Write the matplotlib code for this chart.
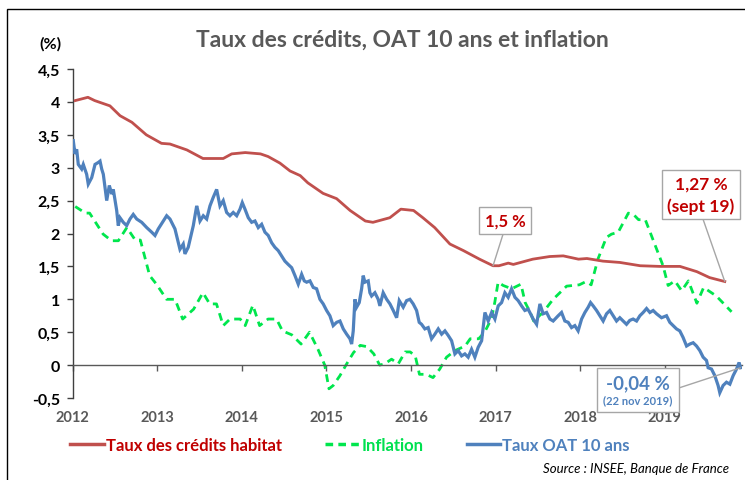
import matplotlib
matplotlib.use("Agg")
import matplotlib.pyplot as plt
from matplotlib.patches import Rectangle
from matplotlib.lines import Line2D
from matplotlib.offsetbox import TextArea, VPacker, AnnotationBbox
from matplotlib.ticker import FuncFormatter, MultipleLocator

# ---------------- data (fractional years, %) ----------------
red_t = [2012.03, 2012.18, 2012.26, 2012.44, 2012.56, 2012.70, 2012.87, 2013.05, 2013.15,
         2013.35, 2013.54, 2013.78, 2013.88, 2014.04, 2014.22, 2014.31, 2014.45, 2014.57,
         2014.69, 2014.78, 2014.96, 2015.12, 2015.28, 2015.46, 2015.55, 2015.75, 2015.88,
         2016.03, 2016.14, 2016.28, 2016.46, 2016.62, 2016.81, 2016.97, 2017.04, 2017.15,
         2017.21, 2017.44, 2017.64, 2017.80, 2017.98, 2018.08, 2018.27, 2018.47, 2018.71,
         2018.94, 2019.18, 2019.38, 2019.53, 2019.71]
red_v = [4.02, 4.07, 4.02, 3.94, 3.79, 3.69, 3.50, 3.37, 3.36,
         3.27, 3.14, 3.14, 3.21, 3.23, 3.21, 3.17, 3.07, 2.95,
         2.88, 2.77, 2.61, 2.53, 2.35, 2.19, 2.17, 2.24, 2.37,
         2.35, 2.24, 2.09, 1.84, 1.74, 1.61, 1.51, 1.51, 1.55,
         1.53, 1.61, 1.65, 1.66, 1.61, 1.62, 1.58, 1.56, 1.51,
         1.50, 1.50, 1.42, 1.33, 1.27]

infl_t = [2012.03, 2012.15, 2012.20, 2012.36, 2012.46, 2012.54, 2012.64, 2012.74, 2012.80,
          2012.91, 2012.99, 2013.11, 2013.21, 2013.30, 2013.43, 2013.54, 2013.62, 2013.70,
          2013.78, 2013.86, 2013.98, 2014.04, 2014.13, 2014.21, 2014.31, 2014.41, 2014.48,
          2014.59, 2014.70, 2014.80, 2014.90, 2014.98, 2015.03, 2015.08, 2015.16, 2015.24,
          2015.32, 2015.40, 2015.48, 2015.56, 2015.63, 2015.69, 2015.77, 2015.85, 2015.93,
          2015.99, 2016.05, 2016.10, 2016.18, 2016.26, 2016.34, 2016.42, 2016.52, 2016.64,
          2016.70, 2016.80, 2016.87, 2016.95, 2016.99, 2017.03, 2017.09, 2017.19, 2017.30,
          2017.35, 2017.41, 2017.45, 2017.56, 2017.68, 2017.84, 2017.99, 2018.07, 2018.13,
          2018.21, 2018.31, 2018.37, 2018.45, 2018.57, 2018.63, 2018.69, 2018.77, 2018.86,
          2018.98, 2019.04, 2019.12, 2019.20, 2019.28, 2019.38, 2019.46, 2019.61, 2019.79]
infl_v = [2.41, 2.31, 2.31, 1.99, 1.89, 1.89, 2.09, 1.90, 1.90,
          1.36, 1.23, 1.00, 1.00, 0.70, 0.85, 1.10, 0.93, 0.93,
          0.60, 0.70, 0.70, 0.60, 0.91, 0.60, 0.70, 0.70, 0.52,
          0.46, 0.32, 0.50, 0.24, 0.00, -0.36, -0.31, -0.16, 0.02,
          0.19, 0.30, 0.28, 0.17, 0.00, 0.02, 0.09, 0.02, 0.20,
          0.20, 0.14, -0.14, -0.14, -0.19, -0.06, 0.12, 0.22, 0.29,
          0.40, 0.40, 0.50, 0.70, 0.95, 1.26, 1.21, 1.16, 1.23,
          0.95, 0.80, 0.67, 0.80, 1.00, 1.20, 1.22, 1.27, 1.22,
          1.61, 1.94, 1.99, 2.02, 2.31, 2.29, 2.21, 2.21, 1.91,
          1.51, 1.21, 1.28, 1.13, 1.28, 0.94, 1.18, 1.05, 0.81]

oat_t = [2012.007, 2012.027, 2012.047, 2012.066, 2012.106, 2012.125, 2012.165, 2012.184, 2012.225,
         2012.264, 2012.303, 2012.323, 2012.343, 2012.362, 2012.402, 2012.433, 2012.461, 2012.480,
         2012.520, 2012.539, 2012.559, 2012.598, 2012.638, 2012.677, 2012.716, 2012.757, 2012.816,
         2012.875, 2012.934, 2012.973, 2013.012, 2013.071, 2013.111, 2013.150, 2013.209, 2013.268,
         2013.307, 2013.327, 2013.366, 2013.407, 2013.426, 2013.466, 2013.485, 2013.505, 2013.544,
         2013.584, 2013.623, 2013.662, 2013.702, 2013.721, 2013.741, 2013.780, 2013.820, 2013.859,
         2013.898, 2013.939, 2013.978, 2014.005, 2014.037, 2014.076, 2014.116, 2014.155, 2014.194,
         2014.234, 2014.273, 2014.312, 2014.352, 2014.391, 2014.430, 2014.470, 2014.509, 2014.548,
         2014.589, 2014.628, 2014.667, 2014.707, 2014.738, 2014.766, 2014.805, 2014.844, 2014.884,
         2014.923, 2014.962, 2015.002, 2015.041, 2015.080, 2015.121, 2015.160, 2015.199, 2015.239,
         2015.278, 2015.298, 2015.317, 2015.337, 2015.357, 2015.388, 2015.416, 2015.435, 2015.455,
         2015.494, 2015.514, 2015.534, 2015.573, 2015.612, 2015.632, 2015.671, 2015.712, 2015.751,
         2015.790, 2015.830, 2015.861, 2015.908, 2015.948, 2015.987, 2016.026, 2016.066, 2016.097,
         2016.125, 2016.164, 2016.203, 2016.243, 2016.282, 2016.322, 2016.362, 2016.401, 2016.440,
         2016.480, 2016.519, 2016.558, 2016.598, 2016.637, 2016.676, 2016.716, 2016.755, 2016.794,
         2016.835, 2016.874, 2016.913, 2016.953, 2016.992, 2017.031, 2017.071, 2017.110, 2017.149,
         2017.189, 2017.229, 2017.267, 2017.307, 2017.346, 2017.385, 2017.445, 2017.485, 2017.524,
         2017.563, 2017.603, 2017.642, 2017.681, 2017.740, 2017.780, 2017.819, 2017.858, 2017.898,
         2017.937, 2017.976, 2018.017, 2018.056, 2018.095, 2018.123, 2018.154, 2018.194, 2018.233,
         2018.272, 2018.312, 2018.351, 2018.390, 2018.430, 2018.469, 2018.508, 2018.548, 2018.587,
         2018.626, 2018.667, 2018.706, 2018.745, 2018.785, 2018.824, 2018.863, 2018.903, 2018.962,
         2019.021, 2019.060, 2019.099, 2019.139, 2019.178, 2019.217, 2019.258, 2019.297, 2019.336,
         2019.376, 2019.415, 2019.454, 2019.494, 2019.513, 2019.553, 2019.592, 2019.631, 2019.651,
         2019.690, 2019.730, 2019.770, 2019.809, 2019.849, 2019.879, 2019.896]
oat_v = [3.41, 3.21, 3.28, 3.05, 2.98, 3.05, 2.90, 2.75, 2.85,
         3.05, 3.08, 3.10, 2.98, 2.90, 2.50, 2.73, 2.60, 2.67,
         2.35, 2.12, 2.24, 2.17, 2.12, 2.22, 2.29, 2.22, 2.17,
         2.09, 2.02, 1.97, 2.07, 2.19, 2.27, 2.22, 2.07, 1.76,
         1.84, 1.69, 1.79, 2.02, 2.12, 2.42, 2.32, 2.19, 2.27,
         2.22, 2.42, 2.55, 2.67, 2.55, 2.42, 2.50, 2.32, 2.27,
         2.32, 2.27, 2.37, 2.47, 2.37, 2.24, 2.17, 2.19, 2.09,
         2.14, 2.02, 1.97, 1.86, 1.79, 1.74, 1.66, 1.58, 1.53,
         1.48, 1.36, 1.23, 1.38, 1.28, 1.26, 1.28, 1.18, 1.16,
         1.00, 0.93, 0.83, 0.75, 0.60, 0.65, 0.67, 0.55, 0.47,
         0.40, 0.32, 0.52, 1.00, 0.88, 0.95, 1.16, 1.36, 1.26,
         1.28, 1.10, 1.05, 1.10, 1.00, 0.90, 1.10, 1.00, 0.93,
         0.83, 0.72, 0.98, 0.88, 0.98, 1.00, 0.93, 0.83, 0.65,
         0.62, 0.55, 0.57, 0.40, 0.47, 0.55, 0.47, 0.52, 0.45,
         0.37, 0.17, 0.22, 0.14, 0.17, 0.12, 0.24, 0.12, 0.27,
         0.37, 0.80, 0.67, 0.80, 0.70, 0.90, 0.95, 1.10, 1.03,
         1.16, 1.03, 0.98, 0.90, 0.83, 0.85, 0.70, 0.62, 0.93,
         0.78, 0.80, 0.70, 0.67, 0.75, 0.80, 0.67, 0.65, 0.57,
         0.60, 0.52, 0.70, 0.80, 0.88, 0.95, 0.90, 0.83, 0.75,
         0.67, 0.78, 0.83, 0.75, 0.67, 0.72, 0.67, 0.62, 0.68,
         0.70, 0.67, 0.75, 0.80, 0.86, 0.80, 0.83, 0.78, 0.72,
         0.75, 0.65, 0.60, 0.55, 0.52, 0.42, 0.29, 0.32, 0.34,
         0.29, 0.22, 0.12, 0.07, -0.04, -0.06, -0.16, -0.31, -0.42,
         -0.31, -0.26, -0.29, -0.16, -0.06, 0.04, -0.04]

years = [2012, 2013, 2014, 2015, 2016, 2017, 2018, 2019]
year_labels = [str(y) for y in years]

title = "Taux des crédits, OAT 10 ans et inflation"
series_names = ["Taux des crédits habitat", "Inflation", "Taux OAT 10 ans"]

# ---------------- style ----------------
FONT = "Lato"
RED = "#C0504D"
RED_TXT = "#C00000"
GREEN = "#00E64D"
BLUE = "#4F81BD"
GRAY = "#595959"

W, H = 745, 481
fig = plt.figure(figsize=(W / 100, H / 100), dpi=100)
plt.rcParams["font.family"] = [FONT, "DejaVu Sans"]

# axes placed in pixel geometry
x0, x1 = 72.7, 741.7
y_top, y_bot = 70, 399
ax = fig.add_axes([x0 / W, 1 - y_bot / H, (x1 - x0) / W, (y_bot - y_top) / H])
ax.set_xlim(2012, 2019.91)
ax.set_ylim(-0.5, 4.5)

ax.plot(red_t, red_v, color=RED, lw=2.0, solid_joinstyle="round", zorder=3)
ax.plot(infl_t, infl_v, color=GREEN, lw=2.0, dashes=(2.8, 2.0), zorder=2)
ax.plot(oat_t, oat_v, color=BLUE, lw=2.3, solid_joinstyle="miter", zorder=4)

for s in ["top", "right"]:
    ax.spines[s].set_visible(False)
ax.spines["left"].set_color("#404040")
ax.spines["left"].set_linewidth(1.0)
ax.spines["bottom"].set_position(("data", 0))
ax.spines["bottom"].set_color(GRAY)
ax.spines["bottom"].set_linewidth(1.0)

ax.yaxis.set_major_locator(MultipleLocator(0.5))
ax.yaxis.set_major_formatter(FuncFormatter(lambda v, p: ("%g" % v).replace(".", ",")))
ax.tick_params(axis="y", direction="out", length=4, width=1, color="#404040",
               labelsize=11.5, labelcolor="black", pad=5)
for lab in ax.get_yticklabels():
    lab.set_fontweight("bold")

ax.set_xticks(years)
ax.set_xticklabels(year_labels, fontweight="bold", color=GRAY, fontsize=10.5)
ax.tick_params(axis="x", direction="out", length=4, width=1, color=GRAY, pad=28)

# title and unit label
fig.text(402 / W, 1 - 40 / H, title, ha="center", va="center", fontsize=16.5,
         fontweight="bold", color=GRAY)
fig.text(50 / W, 1 - 44 / H, "(%)", ha="center", va="center", fontsize=11.5,
         fontweight="bold", color="black")

# annotations
box = dict(boxstyle="square,pad=0.35", fc="white", ec="#A6A6A6", lw=1)
arr = dict(arrowstyle="-", color="#A6A6A6", lw=1, shrinkA=0, shrinkB=0, relpos=(0.5, 0))
imin = red_v.index(min(red_v[:36]))
ax.annotate("1,5 %", xy=(red_t[imin], red_v[imin]), xytext=(2017.11, 2.20),
            ha="center", va="center", fontsize=12, fontweight="bold", color=RED_TXT,
            bbox=box, arrowprops=arr, zorder=6)
ax.annotate("1,27 %\n(sept 19)", xy=(red_t[-1], red_v[-1]), xytext=(2019.43, 2.59),
            ha="center", va="center", fontsize=12.5, fontweight="bold", color=RED_TXT,
            linespacing=1.4, bbox=dict(boxstyle="square,pad=0.3", fc="white",
                                       ec="#A6A6A6", lw=1),
            arrowprops=arr, zorder=6)

ta1 = TextArea("-0,04 %", textprops=dict(fontsize=13.5, fontweight="bold", color=BLUE,
                                         family=[FONT, "DejaVu Sans"]))
ta2 = TextArea("(22 nov 2019)", textprops=dict(fontsize=8, fontweight="bold", color=BLUE,
                                               family=[FONT, "DejaVu Sans"]))
pack = VPacker(children=[ta1, ta2], align="center", pad=0, sep=2)
ab = AnnotationBbox(pack, xy=(oat_t[-1], oat_v[-1]), xybox=(2018.68, -0.38),
                    xycoords="data", boxcoords="data", box_alignment=(0.5, 0.5),
                    bboxprops=dict(boxstyle="square,pad=0.45", fc="white", ec="#A6A6A6", lw=1),
                    arrowprops=dict(arrowstyle="-", color="#A6A6A6", lw=1, relpos=(1, 0.5),
                                    shrinkA=0, shrinkB=0),
                    annotation_clip=False, zorder=6)
ax.add_artist(ab)

# legend
handles = [Line2D([], [], color=RED, lw=2.5),
           Line2D([], [], color=GREEN, lw=2.5, dashes=(2.2, 1.5)),
           Line2D([], [], color=BLUE, lw=2.5)]
leg = fig.legend(handles, series_names, loc="center", bbox_to_anchor=(350 / W, 1 - 446 / H),
                 ncol=3, frameon=False, handlelength=2.0, handletextpad=0.15,
                 columnspacing=2.6, prop=dict(family=[FONT, "DejaVu Sans"], size=12,
                                              weight="bold"))
for t, c in zip(leg.get_texts(), [RED_TXT, "#00E050", BLUE]):
    t.set_color(c)

fig.text(729 / W, 1 - 469 / H, "Source : INSEE, Banque de France", ha="right", va="center",
         fontsize=9.5, fontstyle="italic", color="black")

# outer frame of the chart
fig.add_artist(Rectangle((7 / W, -0.05), 1.2, (H - 10) / H + 0.05, transform=fig.transFigure,
                         fill=False, ec="black", lw=1.0))

fig.savefig("out.png", dpi=100)
